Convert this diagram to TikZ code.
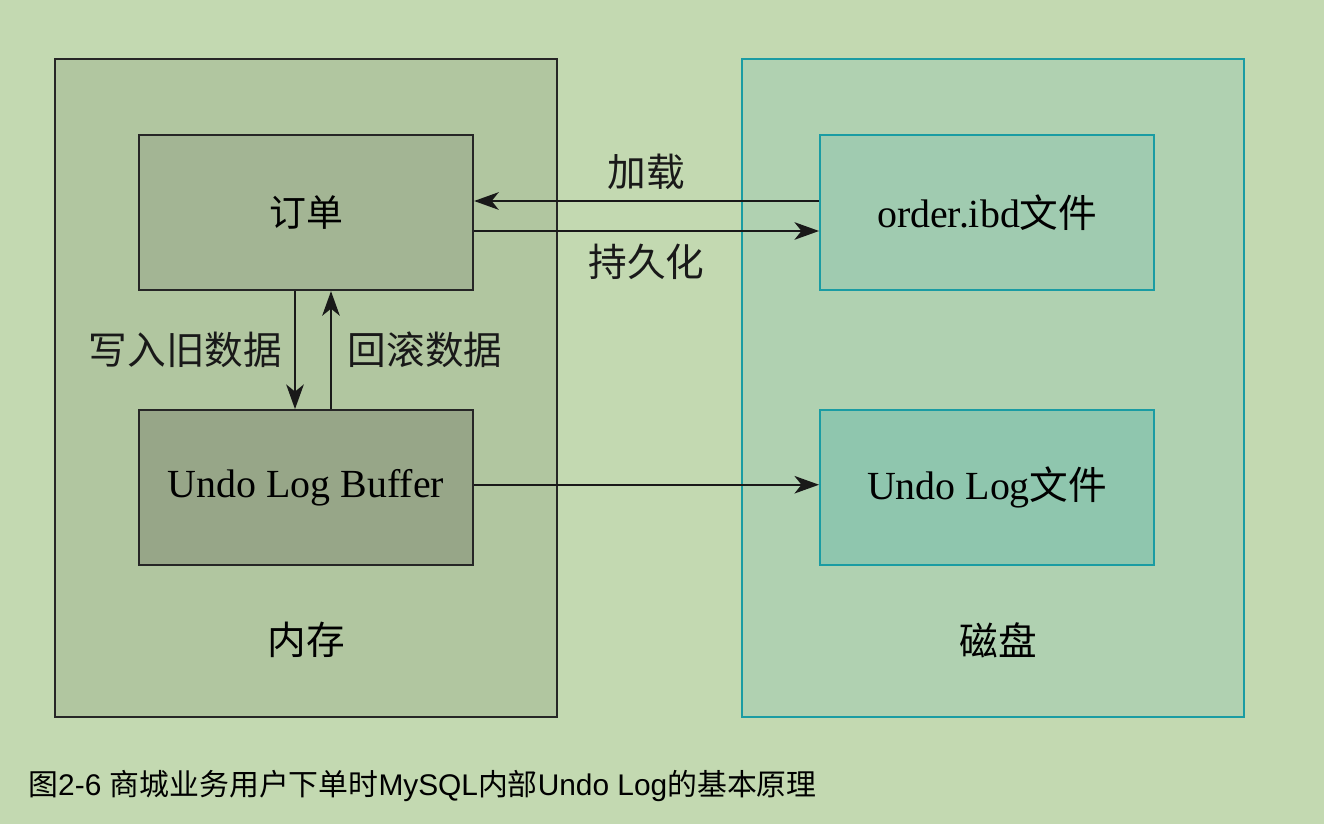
\documentclass[tikz,border=0pt]{standalone}
\usepackage{fontspec}
\setmainfont{Liberation Serif}
\newfontfamily\cjk{Noto Sans CJK SC}
\newfontfamily\capsans{Liberation Sans}
\usetikzlibrary{arrows.meta,positioning}
\definecolor{bgcol}{HTML}{C3D9B1}
\definecolor{memfill}{HTML}{B1C6A0}
\definecolor{orderfill}{HTML}{A3B594}
\definecolor{buffill}{HTML}{97A688}
\definecolor{diskfill}{HTML}{B0D1B1}
\definecolor{ibdfill}{HTML}{A0CBB0}
\definecolor{undofill}{HTML}{8FC6AE}
\definecolor{tealline}{HTML}{1A9CA3}
\tikzset{
  outerbox/.style={line width=1.3pt,minimum width=10.04cm,minimum height=13.16cm,inner sep=0pt},
  innerbox/.style={line width=1.3pt,minimum width=6.68cm,minimum height=3.1cm,inner sep=0pt},
  memline/.style={draw=black!85},
  diskline/.style={draw=tealline},
  flow/.style={->,line width=1.1pt,black!90}
}
\begin{document}
\begin{tikzpicture}[x=0.02cm,y=-0.02cm,>={Stealth[length=14pt,width=10pt,inset=4pt]},
  font=\fontsize{22}{26}\selectfont]
\fill[bgcol] (0,0) rectangle (1324,824);
% memory side
\node[outerbox,memline,fill=memfill] (mem) at (306,388){};
\node[innerbox,memline,fill=orderfill] (order) at (306,212.5){\cjk\fontsize{21}{25}\selectfont 订单};
\node[innerbox,memline,fill=buffill,below=2.36cm of order] (buf){\fontsize{22.7}{27}\selectfont Undo Log Buffer};
\node (memlabel) at (306,640){\cjk 内存};
% disk side
\node[outerbox,diskline,fill=diskfill] (disk) at (993,388){};
\node[innerbox,diskline,fill=ibdfill,right=6.9cm of order] (ibd){\fontsize{22.7}{27}\selectfont order.ibd{\cjk\fontsize{22}{26}\selectfont 文件}};
\node[innerbox,diskline,fill=undofill,right=6.9cm of buf] (undo){\fontsize{22.7}{27}\selectfont Undo Log{\cjk\fontsize{22}{26}\selectfont 文件}};
\node (disklabel) at (998,640){\cjk 磁盘};
% arrows
\draw[flow]([yshift=0.23cm]ibd.west)--node[above=0.1cm]{\cjk 加载}([yshift=0.23cm]order.east);
\draw[flow]([yshift=-0.37cm]order.east)--node[below=0.12cm]{\cjk 持久化}([yshift=-0.37cm]ibd.west);
\draw[flow]([xshift=-0.22cm]order.south)--node[left=0.12cm]{\cjk 写入旧数据}([xshift=-0.22cm]buf.north);
\draw[flow]([xshift=0.5cm]buf.north)--node[right=0.2cm]{\cjk 回滚数据}([xshift=0.5cm]order.north|-order.south);
\draw[flow]([yshift=0.06cm]buf.east)--([yshift=0.06cm]undo.west);
% caption
\node[anchor=west,inner sep=0pt,font=\fontsize{17}{20}\selectfont] (caption) at (28,786)
  {{\cjk 图}\capsans 2-6 {\cjk 商城业务用户下单时}MySQL{\cjk 内部}Undo Log{\cjk 的基本原理}};
\end{tikzpicture}
\end{document}
